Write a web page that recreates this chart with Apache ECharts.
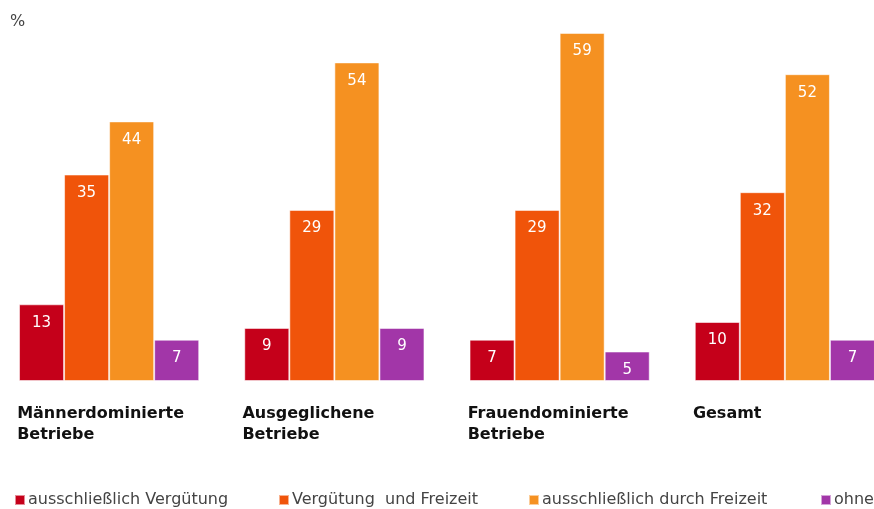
<!DOCTYPE html>
<html>
<head>
<meta charset="utf-8">
<script src="https://cdn.jsdelivr.net/npm/echarts@6/dist/echarts.min.js"></script>
<style>
  html, body { margin: 0; padding: 0; background: #fff; }
  #chart { width: 874px; height: 509px; }
</style>
</head>
<body>
<div id="chart"></div>
<script>
// Betriebstypen (Kategorien)
const categories = ['Männerdominierte\nBetriebe', 'Ausgeglichene\nBetriebe', 'Frauendominierte\nBetriebe', 'Gesamt'];
// Serien
const seriesNames = ['ausschließlich Vergütung', 'Vergütung  und Freizeit', 'ausschließlich durch Freizeit', 'ohne'];
const nurVerguetung = [13, 9, 7, 10];
const verguetungUndFreizeit = [35, 29, 29, 32];
const nurFreizeit = [44, 54, 59, 52];
const ohne = [7, 9, 5, 7];

const colors = ['#C5001A', '#F0540A', '#F59121', '#A236A8'];
const font = '"DejaVu Sans", Verdana, sans-serif';
// horizontale Startpositionen der Legendeneinträge
const legendLeft = [14, 278, 528, 820];

const chart = echarts.init(document.getElementById('chart'));

function makeSeries(name, values, color) {
  return {
    name: name,
    type: 'bar',
    data: values,
    barGap: '0%',
    barCategoryGap: '20%',
    itemStyle: { color: color, borderColor: 'rgba(255,255,255,0.55)', borderWidth: 1 },
    label: {
      show: true,
      position: 'insideTop',
      distance: 11,
      color: '#fff',
      fontFamily: font,
      fontSize: 15
    }
  };
}

const legends = seriesNames.map(function (name, i) {
  return {
    left: legendLeft[i],
    top: 492,
    padding: 0,
    itemWidth: 10,
    itemHeight: 10,
    icon: 'rect',
    data: [name],
    textStyle: { fontFamily: font, fontSize: 16, color: '#444', padding: [0, 0, 0, -2] }
  };
});

chart.setOption({
  animation: false,
  title: {
    text: '%',
    left: 10,
    top: 14,
    padding: 0,
    textStyle: { fontFamily: font, fontSize: 16, fontWeight: 'normal', color: '#444' }
  },
  legend: legends,
  grid: { left: -3.5, width: 901, top: 27, bottom: 128, outerBoundsMode: 'none', containLabel: false },
  xAxis: {
    type: 'category',
    data: categories,
    axisLine: { show: false },
    axisTick: { show: false },
    axisLabel: {
      interval: 0,
      margin: 22,
      align: 'center',
      formatter: function (v) {
        return v.split('\n').map(function (l) { return '{a|' + l + '}'; }).join('\n');
      },
      rich: {
        a: { width: 184, align: 'left', fontFamily: font, fontWeight: 'bold', fontSize: 16, lineHeight: 21, color: '#111' }
      }
    }
  },
  yAxis: {
    type: 'value',
    min: 0,
    max: 60,
    show: false
  },
  series: [
    makeSeries(seriesNames[0], nurVerguetung, colors[0]),
    makeSeries(seriesNames[1], verguetungUndFreizeit, colors[1]),
    makeSeries(seriesNames[2], nurFreizeit, colors[2]),
    makeSeries(seriesNames[3], ohne, colors[3])
  ]
});
</script>
</body>
</html>
